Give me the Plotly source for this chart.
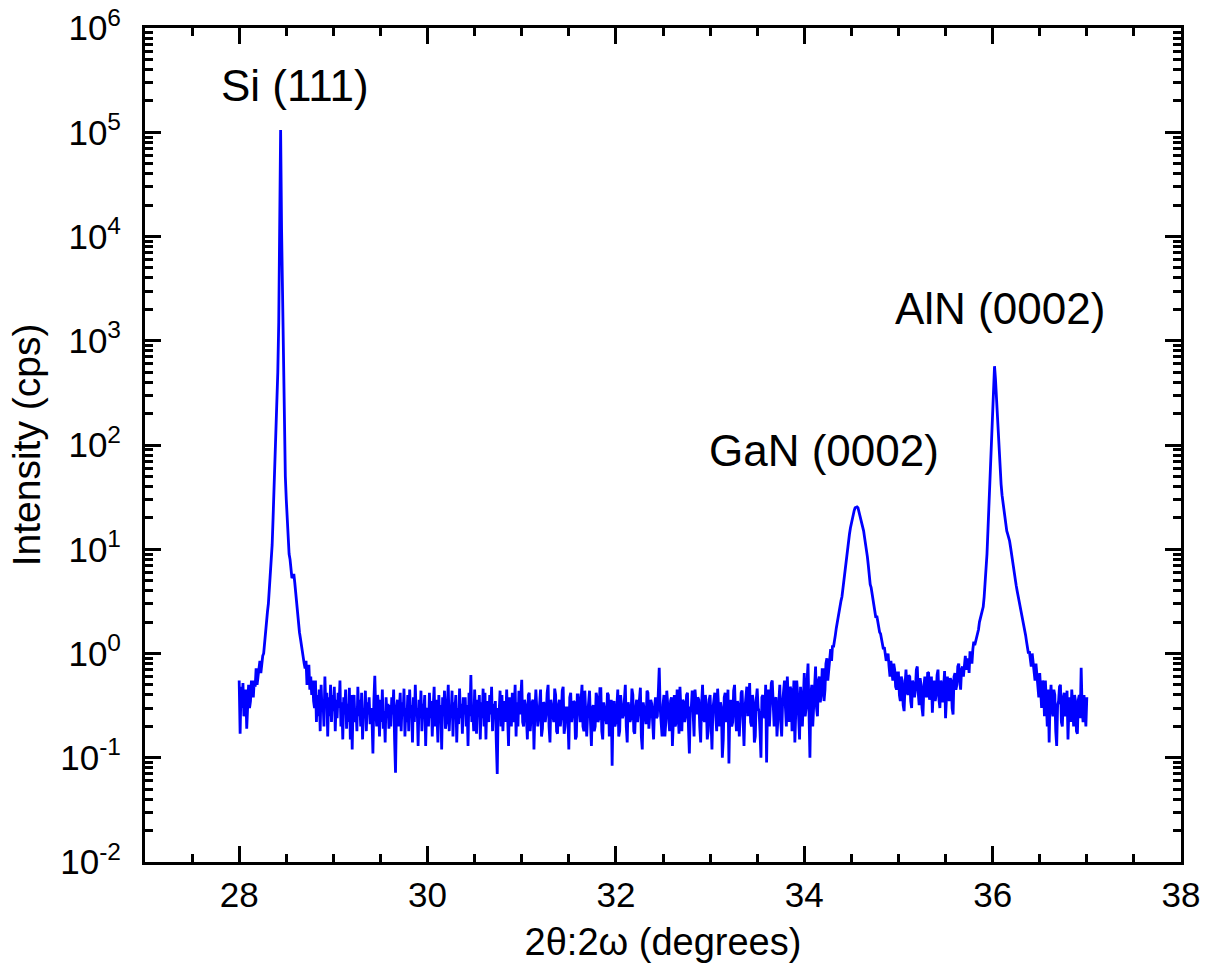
import numpy as np
import plotly.graph_objects as go

# ---- data ----
two_theta_start = 28.00   # degrees
two_theta_step = 0.01     # degrees

intensity = [
    # 28.00
    0.55, 0.17, 0.48, 0.30, 0.52, 0.25, 0.30, 0.45, 0.19, 0.40, 0.50, 0.30, 0.35, 0.55, 0.45, 0.38, 0.55, 0.48, 0.72, 0.50,
    # 28.20
    0.60, 0.75, 0.85, 0.65, 0.80, 0.95, 1.0, 1.3, 1.6, 1.9, 2.5, 3.0, 4.0, 5.0, 7.0, 11, 20, 35, 60, 110,
    # 28.40
    200, 500, 1500, 8000, 105000, 12000, 3000, 500, 100, 50, 30, 18, 12, 9.0, 8.0, 6.2, 5.3, 5.5, 5.8, 4.8,
    # 28.60
    3.8, 3.0, 2.2, 1.9, 1.6, 1.4, 1.2, 1.0, 0.90, 0.80, 0.72, 0.85, 0.50, 0.65, 0.78, 0.45, 0.60, 0.40, 0.55, 0.35,
    # 28.80
    0.30, 0.55, 0.22, 0.40, 0.25, 0.45, 0.18, 0.50, 0.28, 0.35, 0.20, 0.60, 0.30, 0.42, 0.16, 0.38, 0.25, 0.50, 0.22, 0.40,
    # 29.00
    0.28, 0.48, 0.18, 0.36, 0.24, 0.42, 0.30, 0.55, 0.20, 0.34, 0.15, 0.38, 0.26, 0.45, 0.19, 0.33, 0.22, 0.47, 0.15, 0.40,
    # 29.20
    0.12, 0.35, 0.40, 0.22, 0.30, 0.18, 0.48, 0.25, 0.36, 0.20, 0.42, 0.15, 0.30, 0.24, 0.44, 0.18, 0.34, 0.26, 0.38, 0.21,
    # 29.40
    0.30, 0.24, 0.11, 0.35, 0.61, 0.28, 0.20, 0.40, 0.32, 0.16, 0.36, 0.22, 0.45, 0.19, 0.28, 0.14, 0.38, 0.25, 0.33, 0.19,
    # 29.60
    0.32, 0.20, 0.38, 0.26, 0.45, 0.15, 0.072, 0.30, 0.36, 0.20, 0.28, 0.42, 0.18, 0.34, 0.25, 0.46, 0.16, 0.30, 0.22, 0.40,
    # 29.80
    0.18, 0.45, 0.26, 0.32, 0.14, 0.38, 0.22, 0.50, 0.25, 0.30, 0.13, 0.36, 0.24, 0.44, 0.18, 0.33, 0.27, 0.40, 0.13, 0.30,
    # 30.00
    0.28, 0.20, 0.42, 0.24, 0.35, 0.16, 0.30, 0.48, 0.20, 0.36, 0.26, 0.14, 0.40, 0.22, 0.32, 0.12, 0.38, 0.25, 0.44, 0.19,
    # 30.20
    0.22, 0.36, 0.50, 0.18, 0.30, 0.25, 0.44, 0.16, 0.34, 0.28, 0.40, 0.14, 0.30, 0.21, 0.46, 0.24, 0.33, 0.17, 0.38, 0.26,
    # 30.40
    0.38, 0.20, 0.32, 0.13, 0.42, 0.25, 0.62, 0.22, 0.30, 0.18, 0.45, 0.26, 0.17, 0.36, 0.28, 0.40, 0.15, 0.34, 0.24, 0.46,
    # 30.60
    0.20, 0.42, 0.15, 0.35, 0.30, 0.22, 0.40, 0.26, 0.48, 0.18, 0.33, 0.24, 0.35, 0.14, 0.070, 0.30, 0.27, 0.44, 0.20, 0.40,
    # 30.80
    0.18, 0.30, 0.35, 0.22, 0.45, 0.25, 0.13, 0.38, 0.30, 0.20, 0.42, 0.22, 0.28, 0.50, 0.16, 0.34, 0.20, 0.44, 0.26, 0.38,
    # 31.00
    0.56, 0.22, 0.20, 0.36, 0.32, 0.24, 0.15, 0.40, 0.42, 0.18, 0.26, 0.34, 0.36, 0.12, 0.28, 0.45, 0.30, 0.20, 0.24, 0.38,
    # 31.20
    0.45, 0.16, 0.19, 0.34, 0.33, 0.22, 0.27, 0.42, 0.50, 0.20, 0.14, 0.36, 0.30, 0.25, 0.22, 0.46, 0.40, 0.18, 0.17, 0.32,
    # 31.40
    0.36, 0.20, 0.25, 0.44, 0.48, 0.17, 0.20, 0.30, 0.30, 0.24, 0.12, 0.38, 0.42, 0.22, 0.28, 0.35, 0.34, 0.15, 0.16, 0.40,
    # 31.60
    0.40, 0.25, 0.22, 0.36, 0.50, 0.20, 0.18, 0.44, 0.30, 0.16, 0.26, 0.38, 0.44, 0.22, 0.13, 0.30, 0.32, 0.18, 0.20, 0.42,
    # 31.80
    0.38, 0.22, 0.24, 0.46, 0.46, 0.18, 0.15, 0.34, 0.30, 0.25, 0.21, 0.42, 0.40, 0.16, 0.28, 0.36, 0.084, 0.30, 0.35, 0.20,
    # 32.00
    0.22, 0.38, 0.45, 0.16, 0.18, 0.40, 0.32, 0.24, 0.26, 0.44, 0.50, 0.20, 0.14, 0.34, 0.30, 0.22, 0.24, 0.46, 0.40, 0.18,
    # 32.20
    0.17, 0.30, 0.36, 0.22, 0.28, 0.40, 0.47, 0.16, 0.12, 0.34, 0.30, 0.25, 0.21, 0.44, 0.42, 0.19, 0.26, 0.36, 0.33, 0.20,
    # 32.40
    0.15, 0.30, 0.38, 0.24, 0.25, 0.42, 0.73, 0.30, 0.20, 0.16, 0.32, 0.40, 0.16, 0.22, 0.44, 0.30, 0.27, 0.18, 0.35, 0.38,
    # 32.60
    0.13, 0.28, 0.40, 0.20, 0.22, 0.45, 0.30, 0.17, 0.48, 0.26, 0.18, 0.36, 0.34, 0.22, 0.25, 0.40, 0.42, 0.20, 0.11, 0.30,
    # 32.80
    0.30, 0.44, 0.20, 0.16, 0.45, 0.30, 0.26, 0.38, 0.36, 0.20, 0.14, 0.33, 0.50, 0.24, 0.22, 0.40, 0.32, 0.15, 0.18, 0.36,
    # 33.00
    0.40, 0.22, 0.12, 0.30, 0.35, 0.42, 0.25, 0.18, 0.46, 0.28, 0.20, 0.34, 0.30, 0.10, 0.15, 0.38, 0.42, 0.22, 0.28, 0.45,
    # 33.20
    0.088, 0.30, 0.36, 0.20, 0.22, 0.44, 0.50, 0.26, 0.18, 0.35, 0.32, 0.16, 0.26, 0.42, 0.44, 0.20, 0.13, 0.30, 0.38, 0.48,
    # 33.40
    0.25, 0.34, 0.52, 0.22, 0.20, 0.40, 0.34, 0.14, 0.16, 0.36, 0.46, 0.30, 0.28, 0.18, 0.10, 0.38, 0.40, 0.26, 0.24, 0.50,
    # 33.60
    0.090, 0.32, 0.45, 0.20, 0.30, 0.52, 0.55, 0.24, 0.20, 0.36, 0.38, 0.16, 0.26, 0.45, 0.50, 0.22, 0.16, 0.34, 0.42, 0.55,
    # 33.80
    0.30, 0.20, 0.60, 0.36, 0.22, 0.48, 0.45, 0.18, 0.35, 0.55, 0.14, 0.30, 0.55, 0.40, 0.28, 0.15, 0.48, 0.36, 0.20, 0.52,
    # 34.00
    0.65, 0.25, 0.30, 0.55, 0.80, 0.28, 0.10, 0.42, 0.50, 0.20, 0.35, 0.62, 0.75, 0.30, 0.25, 0.55, 0.60, 0.34, 0.40, 0.70,
    # 34.20
    0.70, 0.35, 0.45, 0.80, 0.90, 0.55, 0.70, 0.95, 1.1, 0.85, 1.2, 1.15, 1.4, 1.5, 1.75, 2.0, 2.3, 2.6, 2.9, 3.2,
    # 34.40
    3.5, 4.2, 5.0, 6.2, 7.5, 8.7, 10, 12, 14, 16, 18, 20, 22, 23.5, 25, 25.5, 25.5, 25, 23, 22,
    # 34.60
    20.5, 19, 17, 15, 13, 11.5, 10.5, 8.5, 7.0, 5.6, 4.6, 4.3, 3.8, 3.3, 3.0, 2.6, 2.2, 2.3, 2.0, 1.8,
    # 34.80
    1.6, 1.55, 1.4, 1.2, 1.1, 1.15, 1.0, 0.85, 0.90, 1.0, 0.75, 0.60, 0.85, 0.70, 0.55, 0.80, 0.70, 0.48, 0.45, 0.65,
    # 35.00
    0.65, 0.40, 0.35, 0.60, 0.55, 0.32, 0.28, 0.50, 0.70, 0.45, 0.40, 0.62, 0.60, 0.35, 0.30, 0.55, 0.50, 0.38, 0.45, 0.70,
    # 35.20
    0.75, 0.42, 0.32, 0.58, 0.50, 0.30, 0.25, 0.48, 0.60, 0.40, 0.38, 0.66, 0.65, 0.36, 0.42, 0.60, 0.27, 0.45, 0.55, 0.35,
    # 35.40
    0.40, 0.62, 0.70, 0.36, 0.30, 0.55, 0.50, 0.34, 0.45, 0.68, 0.24, 0.42, 0.60, 0.38, 0.35, 0.58, 0.55, 0.30, 0.26, 0.60,
    # 35.60
    0.65, 0.45, 0.50, 0.75, 0.80, 0.55, 0.45, 0.70, 0.75, 0.60, 0.85, 0.95, 0.70, 0.80, 0.90, 0.65, 1.05, 0.95, 0.80, 1.1,
    # 35.80
    1.3, 1.2, 1.3, 1.5, 1.6, 1.7, 2.0, 2.2, 2.4, 2.6, 2.8, 3.5, 4.5, 6.5, 9.0, 15, 25, 45, 80, 150,
    # 36.00
    250, 420, 570, 430, 280, 170, 112, 80, 55, 42, 33, 28, 24, 20, 17, 15, 14, 13, 12, 10.5,
    # 36.20
    9.0, 7.5, 6.5, 5.6, 5.0, 4.5, 4.0, 3.6, 3.2, 3.0, 2.7, 2.4, 2.1, 1.9, 1.7, 1.5, 1.3, 1.15, 1.0, 1.05,
    # 36.40
    0.90, 0.75, 1.0, 0.80, 0.70, 0.55, 0.80, 0.65, 0.50, 0.38, 0.65, 0.45, 0.30, 0.55, 0.48, 0.25, 0.55, 0.35, 0.20, 0.45,
    # 36.60
    0.14, 0.35, 0.50, 0.30, 0.25, 0.45, 0.40, 0.18, 0.13, 0.32, 0.35, 0.48, 0.50, 0.22, 0.20, 0.38, 0.42, 0.25, 0.28, 0.44,
    # 36.80
    0.15, 0.30, 0.38, 0.22, 0.45, 0.32, 0.20, 0.40, 0.35, 0.18, 0.17, 0.36, 0.40, 0.24, 0.73, 0.30, 0.22, 0.40, 0.30, 0.20,
    # 37.00
    0.38,
]

x_tick_values = [28, 30, 32, 34, 36, 38]
y_tick_exponents = [-2, -1, 0, 1, 2, 3, 4, 5, 6]

peak_labels = ["Si (111)", "GaN (0002)", "AlN (0002)"]
peak_label_x = [28.59, 34.21, 36.08]
peak_label_log_y = [5.45, 1.95, 3.31]

# ---- figure ----
two_theta = np.round(two_theta_start + two_theta_step * np.arange(len(intensity)), 3)

fig = go.Figure()
fig.add_trace(go.Scatter(
    x=two_theta, y=intensity, mode="lines",
    line=dict(color="#0000FF", width=2.8),
    hoverinfo="x+y",
))

x_minor = [v / 2 for v in range(54, 77) if (v / 2) not in x_tick_values]
y_minor = [m * 10.0 ** e for e in y_tick_exponents[:-1] for m in range(2, 10)]

for txt, xx, yy in zip(peak_labels, peak_label_x, peak_label_log_y):
    fig.add_annotation(x=xx, y=yy, xref="x", yref="y", text=txt, showarrow=False,
                       font=dict(size=44, color="black"), xanchor="center", yanchor="middle")

axis_common = dict(
    showline=True, linewidth=3, linecolor="black", mirror="ticks",
    ticks="inside", ticklen=16, tickwidth=2.5, tickcolor="black",
    showgrid=False, zeroline=False, automargin=False,
    ticklabeloverflow="allow",
    tickfont=dict(size=35, color="black"),
)

fig.update_xaxes(
    range=[27, 38], tickmode="array", tickvals=x_tick_values,
    ticktext=[str(v) for v in x_tick_values],
    minor=dict(tickmode="array", tickvals=x_minor, ticks="inside", ticklen=8,
               tickwidth=2.5, tickcolor="black", showgrid=False),
    title=dict(text="2θ:2ω (degrees)", font=dict(size=38, color="black"), standoff=16),
    ticklabelstandoff=0,
    **axis_common,
)
fig.update_yaxes(
    type="log", range=[-2, 6], tickmode="array",
    tickvals=[10.0 ** e for e in y_tick_exponents],
    ticktext=[f"10<sup>{e}</sup>" for e in y_tick_exponents],
    minor=dict(tickmode="array", tickvals=y_minor, ticks="inside", ticklen=8,
               tickwidth=2.5, tickcolor="black", showgrid=False),
    title=dict(text="Intensity (cps)", font=dict(size=39, color="black"), standoff=8),
    ticklabelstandoff=14,
    **axis_common,
)

fig.update_layout(
    width=1208, height=971,
    margin=dict(l=145, r=27, t=28, b=109),
    plot_bgcolor="white", paper_bgcolor="white",
    font=dict(family="Liberation Sans, Arial, sans-serif", color="black"),
    showlegend=False,
)

# remove the browser's default 8 px body margin so the figure fills the window exactly
fig.write_html("out.html", config={"displayModeBar": False},
               post_script="document.body.style.margin='0';")
